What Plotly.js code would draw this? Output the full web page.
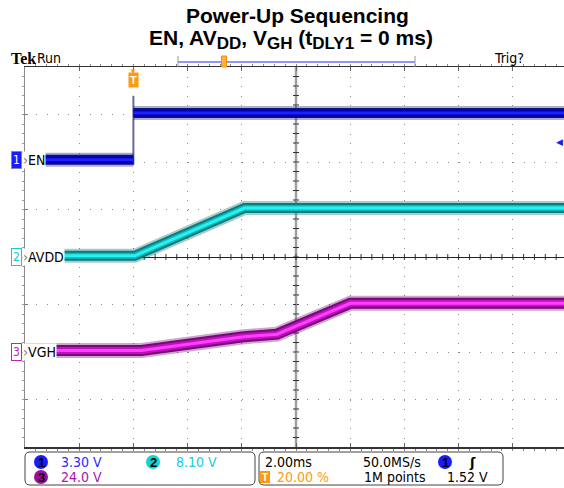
<!DOCTYPE html>
<html>
<head>
<meta charset="utf-8">
<script src="https://cdn.plot.ly/plotly-3.0.1.min.js"></script>
<style>html,body{margin:0;padding:0;background:#fff;}#chart{width:564px;height:488px;}</style>
</head>
<body>
<div id="chart"></div>
<script>
// ---- data read from the scope capture (time in ms, voltages in V) ----
const enLowT  = [-4, 0];
const enLowV  = [0.15, 0.15];
const enHighT = [0, 15.9];
const enHighV = [3.4, 3.4];
const enEdgeT = [0, 0];
const enEdgeV = [-0.2, 4.6];

const avddT = [-4, 0.05, 4.1, 15.9];
const avddV = [0.2, 0.2, 8.35, 8.35];

const vghT = [-4, 0.3, 4.0, 5.3, 8.0, 15.9];
const vghV = [0.8, 0.8, 7.6, 9.0, 24.6, 24.6];

const chNames = ['EN', 'AVDD', 'VGH'];
const chScale = ['3.30 V', '8.10 V', '24.0 V'];
const timeBase = '2.00ms';
const sampleRate = '50.0MS/s';
const trigPos = '20.00 %';
const recLen = '1M points';
const trigLevel = '1.52 V';

// ---- geometry helpers (pixels -> paper) ----
const L = 25, T = 67, W = 539, H = 380;
const px = x => (x - L) / W;
const py = y => (T + H - y) / H;

const NARROW = 'Liberation Sans Narrow, DejaVu Sans Condensed, Liberation Sans, sans-serif';

function band(x, y, yaxis, cols, widths) {
  return cols.map((c, i) => ({
    type: 'scatter', mode: 'lines', x: x, y: y, xaxis: 'x', yaxis: yaxis,
    line: {color: c, width: widths[i]}, hoverinfo: 'skip', showlegend: false
  }));
}

const enCols = ['rgba(20,20,110,0.35)', '#12127a', '#0000b8', '#2020ff'];
const avCols = ['rgba(0,110,110,0.35)', '#0b7a7a', '#18b4b4', '#20f4f4'];
const vgCols = ['rgba(110,0,110,0.35)', '#750a75', '#c010c0', '#ff40ff'];

const traces = [].concat(
  [{type:'scatter', mode:'lines', x:[-4], y:[0], xaxis:'x', yaxis:'y', hoverinfo:'skip', showlegend:false, line:{width:0, color:'rgba(0,0,0,0)'}}],
  band(vghT, vghV, 'y4', vgCols, [15, 11, 7, 3]),
  band(avddT, avddV, 'y3', avCols, [14, 10, 6, 3]),
  [{type:'scatter', mode:'lines', x: enEdgeT, y: enEdgeV, xaxis:'x', yaxis:'y2',
    line:{color:'#6a6a9a', width:2}, hoverinfo:'skip', showlegend:false}],
  band(enLowT, enLowV, 'y2', enCols, [14, 10, 7, 3]),
  band(enHighT, enHighV, 'y2', enCols, [14, 10, 7, 3])
);

function rr(x0, y0, x1, y1, r) {
  const P = (x, y) => px(x) + ',' + py(y);
  return 'M' + P(x0 + r, y0) + ' L' + P(x1 - r, y0) + ' Q' + P(x1, y0) + ' ' + P(x1, y0 + r) +
    ' L' + P(x1, y1 - r) + ' Q' + P(x1, y1) + ' ' + P(x1 - r, y1) +
    ' L' + P(x0 + r, y1) + ' Q' + P(x0, y1) + ' ' + P(x0, y1 - r) +
    ' L' + P(x0, y0 + r) + ' Q' + P(x0, y0) + ' ' + P(x0 + r, y0) + ' Z';
}

const divW = 542 / 10;
const xSpan = W / divW;           // divisions visible
const tMin = -4, msPerDiv = 2;
const tCenter = tMin + 5 * msPerDiv;

const shapes = [
  // centre vertical graticule line
  {type:'line', xref:'x', yref:'paper', x0:tCenter, x1:tCenter, y0:0, y1:1, layer:'below', line:{color:'#a0a0a0', width:2.5}},
  // top record bar
  {type:'line', xref:'paper', yref:'paper', x0:px(178), x1:px(415), y0:py(62), y1:py(62), line:{color:'#7070ff', width:1.5}},
  {type:'line', xref:'paper', yref:'paper', x0:px(178), x1:px(178), y0:py(56), y1:py(67), line:{color:'#999', width:1}},
  {type:'line', xref:'paper', yref:'paper', x0:px(415), x1:px(415), y0:py(56), y1:py(67), line:{color:'#999', width:1}},
  {type:'rect', xref:'paper', yref:'paper', x0:px(221.5), x1:px(226.5), y0:py(56), y1:py(67), fillcolor:'#ffb040', line:{color:'#ff8a00', width:1}},
  // bottom panels
  {type:'path', xref:'paper', yref:'paper', path: rr(25, 452, 255, 485, 5), line:{color:'#444', width:1}},
  {type:'path', xref:'paper', yref:'paper', path: rr(259, 452, 503, 485, 5), line:{color:'#444', width:1}},
  {type:'circle', xref:'paper', yref:'paper', x0:px(34), x1:px(48), y0:py(455), y1:py(469), fillcolor:'#1a1aff', line:{width:0}},
  {type:'circle', xref:'paper', yref:'paper', x0:px(146), x1:px(160), y0:py(455), y1:py(469), fillcolor:'#10d4d4', line:{width:0}},
  {type:'circle', xref:'paper', yref:'paper', x0:px(34), x1:px(48), y0:py(470), y1:py(484), fillcolor:'#9a109a', line:{width:0}},
  {type:'circle', xref:'paper', yref:'paper', x0:px(438), x1:px(452), y0:py(455), y1:py(469), fillcolor:'#1a1aff', line:{width:0}},
  {type:'rect', xref:'paper', yref:'paper', x0:px(260), x1:px(270), y0:py(471), y1:py(483), fillcolor:'#ff9a10', line:{width:0}}
];
// minor ticks along the centre cross-hair
for (let i = 1; i < 50; i++) {
  const t = tMin + i * msPerDiv / 5;
  shapes.push({type:'line', xref:'x', yref:'y', x0:t, x1:t, ysizemode:'pixel', yanchor:0, y0:-3, y1:3,
    layer:'below', line:{color:'#333', width:1}});
}
for (let i = 1; i < 40; i++) {
  const d = -4 + i * 0.2;
  shapes.push({type:'line', xref:'x', yref:'y', y0:d, y1:d, xsizemode:'pixel', xanchor:tCenter, x0:-3, x1:3,
    layer:'below', line:{color:'#333', width:1}});
}

function A(x, y, text, opts) {
  return Object.assign({xref:'paper', yref:'paper', x:px(x), y:py(y), text:text, showarrow:false,
    xanchor:'left', yanchor:'middle', font:{family:NARROW, size:14, color:'#000'}}, opts || {});
}

const SUB = s => '<sub><span style="font-size:17px">' + s + '</span></sub>';
const TITLE_FONT = {family:'Liberation Sans, Arial, sans-serif', size:21, color:'#000'};
const NUM_FONT = {family:'Liberation Sans', size:13, color:'#000', weight:'bold'};

const annotations = [
  A(297, 16, '<b>Power-Up Sequencing</b>', {xanchor:'center', font:TITLE_FONT}),
  A(291, 40, '<b>EN, AV' + SUB('DD') + ', V' + SUB('GH') + ' (t' + SUB('DLY1') + ' = 0 ms)</b>', {xanchor:'center', font:TITLE_FONT}),
  A(9, 58, '<b>Tek</b>', {font:{family:'Liberation Serif, DejaVu Serif, serif', size:16, color:'#000'}}),
  A(35, 58, 'Run'),
  A(492, 58, 'Trig?'),
  // trigger position marker
  A(133, 70, '▼', {xanchor:'center', font:{size:8, color:'#ff9a10'}}),
  A(133, 80, '<b>T</b>', {xanchor:'center', bgcolor:'#ff9a10', borderpad:1, font:{family:'Liberation Sans', size:11, color:'#fff'}}),
  // channel markers
  A(16, 160, '1', {xanchor:'center', bgcolor:'#1a1aff', bordercolor:'#888', borderpad:1, font:{family:NARROW, size:12, color:'#fff'}}),
  A(22, 160, '<span style="color:#777">›</span>' + chNames[0], {bgcolor:'#fff', borderpad:0}),
  A(16, 257, '2', {xanchor:'center', bgcolor:'#fff', bordercolor:'#10c8d8', borderpad:1, font:{family:NARROW, size:12, color:'#10c8d8'}}),
  A(22, 257, '<span style="color:#777">›</span>' + chNames[1], {bgcolor:'#fff', borderpad:0}),
  A(16, 352, '3', {xanchor:'center', bgcolor:'#fff', bordercolor:'#c020c0', borderpad:1, font:{family:NARROW, size:12, color:'#c020c0'}}),
  A(22, 352, '<span style="color:#777">›</span>' + chNames[2], {bgcolor:'#fff', borderpad:0}),
  // trigger level marker
  A(565, 141, '◀', {xanchor:'right', font:{size:9, color:'#1a1aff'}}),
  // bottom panel
  A(41, 462, '1', {xanchor:'center', font:NUM_FONT}),
  A(59, 462, chScale[0], {font:{family:NARROW, size:14, color:'#2a2aff'}}),
  A(153, 462, '2', {xanchor:'center', font:NUM_FONT}),
  A(174, 462, chScale[1], {font:{family:NARROW, size:14, color:'#20c8e0'}}),
  A(41, 477, '3', {xanchor:'center', font:NUM_FONT}),
  A(59, 477, chScale[2], {font:{family:NARROW, size:14, color:'#b010b0'}}),
  A(263, 462, timeBase),
  A(361, 462, sampleRate),
  A(445, 462, '1', {xanchor:'center', font:NUM_FONT}),
  A(467, 462, '<b>ʃ</b>', {font:{family:'DejaVu Sans', size:13, color:'#000'}}),
  A(265, 477, '<b>T</b>', {xanchor:'center', font:{family:'Liberation Sans', size:10, color:'#fff'}}),
  A(275, 477, trigPos, {font:{family:NARROW, size:14, color:'#ff9a10'}}),
  A(362, 477, recLen),
  A(445, 477, trigLevel)
];

const layout = {
  width: 564, height: 488,
  margin: {l: L, r: 0, t: T, b: 488 - T - H},
  paper_bgcolor: '#fff', plot_bgcolor: '#fff',
  showlegend: false,
  xaxis: {
    range: [tMin, tMin + msPerDiv * xSpan], dtick: msPerDiv, tick0: 0,
    showgrid: true, gridcolor: '#8a8a8a', gridwidth: 1, griddash: '1px,8.5px',
    zeroline: false, showticklabels: false,
    showline: true, linecolor: '#333', linewidth: 1.5, mirror: 'ticks',
    ticks: 'inside', ticklen: 4, tickcolor: '#666',
    minor: {dtick: msPerDiv / 5, ticklen: 2, tickcolor: '#888', showgrid: false},
    fixedrange: true
  },
  yaxis: {
    range: [-4, 4], dtick: 1,
    showgrid: true, gridcolor: '#8a8a8a', gridwidth: 1, griddash: '1px,9.84px',
    zeroline: true, zerolinecolor: '#222', zerolinewidth: 1,
    showticklabels: false, showline: true, linecolor: '#8a8a8a', linewidth: 1,
    ticks: 'inside', ticklen: 3, tickcolor: '#777',
    minor: {dtick: 0.2, ticklen: 2, tickcolor: '#999', showgrid: false},
    fixedrange: true
  },
  yaxis2: {overlaying: 'y', range: [-6 * 3.3, 2 * 3.3], visible: false},
  yaxis3: {overlaying: 'y', range: [-4 * 8.1, 4 * 8.1], visible: false},
  yaxis4: {overlaying: 'y', range: [-2 * 24, 6 * 24], visible: false},
  shapes: shapes,
  annotations: annotations
};

Plotly.newPlot('chart', traces, layout, {displayModeBar: false, staticPlot: true});
</script>
</body>
</html>
